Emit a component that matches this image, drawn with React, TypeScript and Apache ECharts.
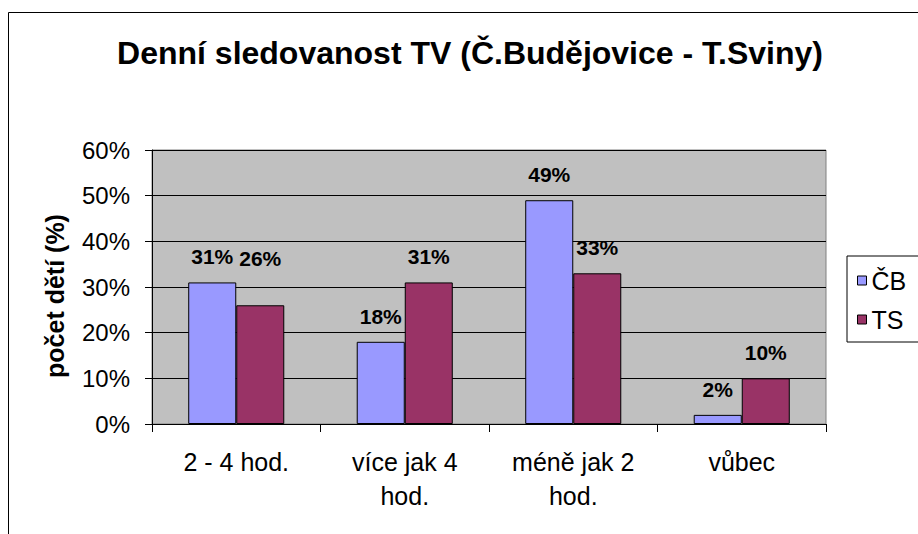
import React, { useEffect, useRef } from "react";
import * as echarts from "echarts";

const categories = ["2 - 4 hod.", "více jak 4\nhod.", "méně jak 2\nhod.", "vůbec"];
const seriesNames = ["ČB", "TS"];
const cbValues = [31, 18, 49, 2];
const tsValues = [26, 31, 33, 10];
const yTicks = [0, 10, 20, 30, 40, 50, 60];

const FONT = "'Liberation Sans', Arial, sans-serif";

export default function App() {
  const ref = useRef<HTMLDivElement>(null);
  useEffect(() => {
    if (!ref.current) return;
    const chart = echarts.init(ref.current, null, { renderer: "svg" });
    const labelBase = {
      show: true,
      position: "top",
      distance: 15,
      formatter: (p: any) => p.value + "%",
      color: "#000",
      fontFamily: FONT,
      fontWeight: "bold",
      fontSize: 21,
    };
    chart.setOption({
      animation: false,
      backgroundColor: "#fff",
      textStyle: { fontFamily: FONT },
      title: {
        text: "Denní sledovanost TV (Č.Budějovice - T.Sviny)",
        left: 465,
        top: 32,
        textAlign: "center",
        textStyle: { fontFamily: FONT, fontWeight: "bold", fontSize: 32, color: "#000" },
      },
      legend: {
        orient: "vertical",
        left: 847,
        top: 256,
        data: seriesNames,
        icon: "rect",
        itemWidth: 9,
        itemHeight: 9,
        itemGap: 14,
        padding: [12, 20, 10, 10],
        borderColor: "#000",
        borderWidth: 1,
        textStyle: { fontFamily: FONT, fontSize: 25, color: "#000", padding: [0, 0, 0, 0] },
        itemStyle: { borderColor: "#000", borderWidth: 1 },
      },
      grid: {
        left: 152,
        top: 150,
        width: 674,
        height: 274,
        show: true,
        backgroundColor: "#C0C0C0",
        borderColor: "#808080",
        borderWidth: 1,
        containLabel: false,
      },
      xAxis: {
        type: "category",
        data: categories,
        axisLine: { lineStyle: { color: "#000", width: 1 } },
        axisTick: { show: true, length: 8, lineStyle: { color: "#000" } },
        axisLabel: {
          color: "#000",
          fontFamily: FONT,
          fontSize: 25,
          margin: 21,
          lineHeight: 34,
          interval: 0,
        },
      },
      yAxis: {
        type: "value",
        min: yTicks[0],
        max: yTicks[yTicks.length - 1],
        interval: 10,
        name: "počet dětí (%)",
        nameLocation: "middle",
        nameGap: 85,
        nameTextStyle: {
          fontFamily: FONT,
          fontWeight: "bold",
          fontSize: 25,
          color: "#000",
          padding: [0, 18, 0, 0],
        },
        axisLine: { show: true, lineStyle: { color: "#000", width: 1 } },
        axisTick: { show: true, length: 7, lineStyle: { color: "#000" } },
        axisLabel: {
          color: "#000",
          fontFamily: FONT,
          fontSize: 24,
          margin: 22,
          formatter: (v: number) => v + "%",
        },
        splitLine: { show: true, lineStyle: { color: "#000", width: 1 } },
      },
      graphic: [
        {
          type: "rect",
          shape: { x: 8.5, y: 12.5, width: 1000, height: 1000 },
          style: { fill: "none", stroke: "#000", lineWidth: 1 },
          silent: true,
          z: 100,
        },
      ],
      series: [
        {
          name: seriesNames[0],
          type: "bar",
          data: cbValues,
          barGap: "0%",
          barCategoryGap: "43%",
          itemStyle: { color: "#9999FF", borderColor: "#000", borderWidth: 1 },
          label: labelBase,
        },
        {
          name: seriesNames[1],
          type: "bar",
          data: tsValues.map((v, i) =>
            i === 0 ? { value: v, label: { distance: 36 } } : v
          ),
          barGap: "0%",
          barCategoryGap: "43%",
          itemStyle: { color: "#993366", borderColor: "#000", borderWidth: 1 },
          label: labelBase,
        },
      ],
    });
    return () => chart.dispose();
  }, []);
  return (
    <div
      ref={ref}
      style={{ position: "fixed", left: 0, top: 0, width: 918, height: 534 }}
    />
  );
}
